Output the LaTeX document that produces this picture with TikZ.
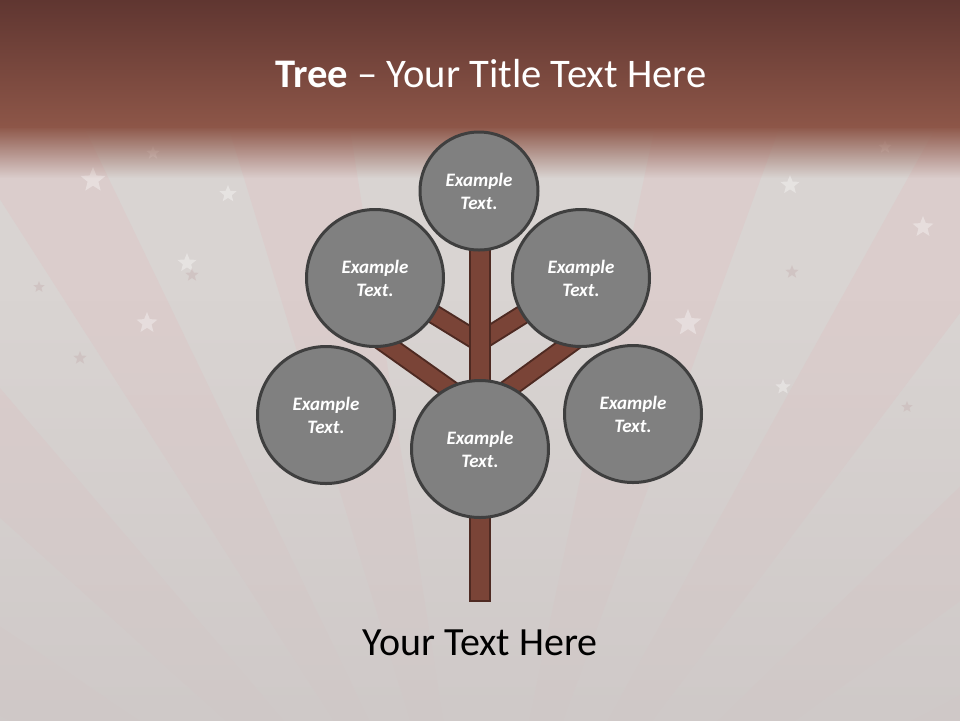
\documentclass[tikz,border=0pt]{standalone}
\usepackage{fontspec}
\setmainfont{Carlito}
\usetikzlibrary{shapes.geometric,fadings}
\definecolor{trhead}{HTML}{5E3530}
\definecolor{trband}{HTML}{8D5648}
\definecolor{trbg}{HTML}{D9D4D2}
\definecolor{trpink}{HTML}{DBCDCC}
\definecolor{trfloor}{HTML}{CEC8C7}
\definecolor{trbark}{HTML}{7A4437}
\definecolor{trbarkedge}{HTML}{4E2A22}
\definecolor{trleaf}{HTML}{808080}
\definecolor{trleafedge}{HTML}{3F3F3F}
\definecolor{trstar}{HTML}{C9B6B6}
\pgfdeclarelayer{bg}
\pgfdeclarelayer{twig}
\pgfsetlayers{bg,twig,main}
\tikzfading[name=hdfade, top color=transparent!0, bottom color=transparent!100]
\tikzfading[name=hdrise, top color=transparent!100, bottom color=transparent!10]
\tikzset{
  leaf/.style={circle, draw=trleafedge, line width=1.5pt, fill=trleaf, inner sep=0pt, align=center,
    text=white, font=\fontsize{9.5}{11.5}\selectfont\bfseries\itshape},
  twig/.style={draw=trbarkedge, line width=1pt, double=trbark, double distance=8pt, shorten >=-8pt},
  trunk/.style={draw=trbarkedge, fill=trbark, line width=1pt, inner sep=0pt},
  starlt/.style={star, star points=5, star point ratio=2.3, fill=white, fill opacity=0.35, inner sep=0pt},
  stardk/.style={starlt, fill=trstar, fill opacity=0.5},
  ttl/.style={anchor=base, text=white, font=\fontsize{20.3}{24}\selectfont},
}
\begin{document}
\begin{tikzpicture}[x=0.5pt, y=-0.5pt]
  \useasboundingbox (0,0) rectangle (960,720);
  % backdrop: rays, stars, header
  \begin{pgfonlayer}{bg}
    \fill[trbg] (-5,-5) rectangle (965,725);
    \begin{scope}
      \clip (-5,-5) rectangle (965,725);
      \foreach \a/\b in {-64/-56, -48/-40.5, -32.6/-25.7, -17/-9, 12/20, 29/37, 46/54, 62/70}
        \fill[trpink] (480,950) -- +(\a-90:1500) -- +(\b-90:1500) -- cycle;
      \fill[trfloor, path fading=hdrise] (-5,300) rectangle (965,725);
    \end{scope}
    \foreach \i/\x/\y/\s in {1/93/180/13, 2/228/194/9, 3/153/153/7, 4/187/263/10, 5/147/323/11, 6/790/185/10, 7/923/227/11, 8/688/323/14, 9/885/147/7, 10/783/387/8}
      \node[starlt, minimum size=\s pt] (st\i) at (\x,\y) {};
    \foreach \i/\x/\y/\s in {11/192/275/7, 12/39/287/6, 13/80/358/7, 14/792/272/7, 15/907/407/6}
      \node[stardk, minimum size=\s pt] (st\i) at (\x,\y) {};
    \shade[top color=trhead, bottom color=trband] (-5,-5) rectangle (965,127);
    \fill[trband, path fading=hdfade] (-5,126) rectangle (965,178);
  \end{pgfonlayer}

  \node[ttl] (title) at (491,87) {\textbf{Tree} \textendash{} Your Title Text Here};

  % leaves
  \foreach \nm/\x/\y/\d in {top/479/191/59, ul/375/278/68.5, ur/581/278/68.5, ll/326/415/68.5, mid/480/449/68.5, lr/633/414/68.5}
    \node[leaf, minimum size=\d pt] (\nm) at (\x,\y) {Example\\Text.};

  % branches and trunk
  \begin{pgfonlayer}{twig}
    \coordinate (jhi) at (479,342);
    \coordinate (jlo) at (479,410);
    \draw[twig] (jhi) -- (ul.center);
    \draw[twig] (jhi) -- (ur.center);
    \draw[twig] (jlo) -- (ul.-78);
    \draw[twig] (jlo) -- (ur.-102);
    \node[trunk, minimum width=10pt, minimum height=185pt] (trunk) at (479.5,415.5) {};
  \end{pgfonlayer}

  \node[anchor=base, font=\fontsize{20}{24}\selectfont] (caption) at (480,655) {Your Text Here};
\end{tikzpicture}
\end{document}
